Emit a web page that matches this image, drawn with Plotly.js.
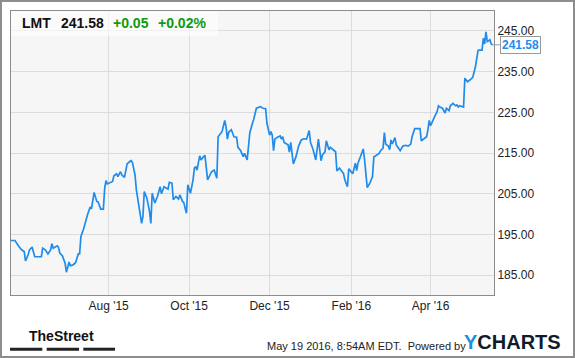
<!DOCTYPE html>
<html><head><meta charset="utf-8">
<script src="https://cdn.plot.ly/plotly-3.0.1.min.js"></script>
<style>
html,body{margin:0;padding:0;background:#fff;}
#wrap{position:relative;width:575px;height:358px;}
#chart{width:575px;height:358px;}
#frame{position:absolute;left:0;top:0;width:575px;height:358px;box-sizing:border-box;border:2px solid #8d8d8d;pointer-events:none;}
</style></head>
<body>
<div id="wrap"><div id="chart"></div><div id="frame"></div></div>
<script>
const dates = [
"2015-05-19","2015-05-22","2015-05-25","2015-05-27","2015-05-29","2015-05-30","2015-06-01","2015-06-02","2015-06-04","2015-06-05",
"2015-06-06","2015-06-11","2015-06-12","2015-06-14","2015-06-16","2015-06-18","2015-06-19","2015-06-20","2015-06-21","2015-06-23",
"2015-06-24","2015-06-25","2015-06-27","2015-06-29","2015-06-30","2015-07-02","2015-07-03","2015-07-05","2015-07-07","2015-07-09",
"2015-07-10","2015-07-11","2015-07-13","2015-07-15","2015-07-16","2015-07-18","2015-07-19","2015-07-21","2015-07-23","2015-07-24",
"2015-07-26","2015-07-28","2015-07-29","2015-07-30","2015-07-31","2015-08-04","2015-08-05","2015-08-07","2015-08-08","2015-08-10",
"2015-08-11","2015-08-13","2015-08-15","2015-08-17","2015-08-18","2015-08-19","2015-08-21","2015-08-22","2015-08-24","2015-08-26",
"2015-08-27","2015-08-28","2015-08-30","2015-08-31","2015-09-01","2015-09-02","2015-09-03","2015-09-05","2015-09-07","2015-09-09",
"2015-09-10","2015-09-12","2015-09-14","2015-09-15","2015-09-16","2015-09-18","2015-09-19","2015-09-21","2015-09-23","2015-09-24",
"2015-09-26","2015-09-27","2015-09-28","2015-09-29","2015-09-30","2015-10-02","2015-10-04","2015-10-05","2015-10-06","2015-10-07",
"2015-10-09","2015-10-10","2015-10-12","2015-10-13","2015-10-15","2015-10-17","2015-10-18","2015-10-20","2015-10-22","2015-10-23",
"2015-10-25","2015-10-26","2015-10-28","2015-10-29","2015-10-30","2015-10-31","2015-11-02","2015-11-04","2015-11-06","2015-11-07",
"2015-11-09","2015-11-10","2015-11-11","2015-11-12","2015-11-14","2015-11-15","2015-11-16","2015-11-18","2015-11-19","2015-11-21",
"2015-11-23","2015-11-24","2015-11-26","2015-11-28","2015-11-29","2015-12-01","2015-12-02","2015-12-03","2015-12-04","2015-12-05",
"2015-12-07","2015-12-09","2015-12-10","2015-12-11","2015-12-12","2015-12-13","2015-12-15","2015-12-16","2015-12-17","2015-12-19",
"2015-12-21","2015-12-23","2015-12-25","2015-12-27","2015-12-29","2015-12-31","2016-01-01","2016-01-03","2016-01-04","2016-01-05",
"2016-01-07","2016-01-08","2016-01-09","2016-01-10","2016-01-12","2016-01-13","2016-01-15","2016-01-16","2016-01-18","2016-01-20",
"2016-01-21","2016-01-23","2016-01-24","2016-01-26","2016-01-27","2016-01-29","2016-01-30","2016-02-01","2016-02-02","2016-02-04",
"2016-02-05","2016-02-06","2016-02-08","2016-02-10","2016-02-11","2016-02-13","2016-02-15","2016-02-17","2016-02-18","2016-02-20",
"2016-02-22","2016-02-23","2016-02-25","2016-02-26","2016-02-27","2016-02-29","2016-03-01","2016-03-02","2016-03-03","2016-03-05",
"2016-03-06","2016-03-09","2016-03-11","2016-03-13","2016-03-15","2016-03-17","2016-03-18","2016-03-20","2016-03-22","2016-03-24",
"2016-03-25","2016-03-27","2016-03-29","2016-03-30","2016-03-31","2016-04-01","2016-04-03","2016-04-04","2016-04-06","2016-04-07",
"2016-04-08","2016-04-10","2016-04-12","2016-04-13","2016-04-15","2016-04-16","2016-04-18","2016-04-20","2016-04-21","2016-04-22",
"2016-04-23","2016-04-25","2016-04-26","2016-04-27","2016-04-29","2016-05-01","2016-05-03","2016-05-05","2016-05-07","2016-05-08",
"2016-05-10","2016-05-11","2016-05-12","2016-05-13","2016-05-14","2016-05-16","2016-05-17","2016-05-18"
];
const prices = [
193.5,193.5,192.0,191.2,190.8,188.5,190.0,191.2,191.9,190.8,
189.5,189.5,191.6,191.2,190.2,191.2,192.7,191.6,191.8,192.2,
191.8,190.4,189.7,187.9,185.7,188.2,187.3,187.5,188.1,190.2,
190.2,194.5,196.3,199.0,199.8,201.7,201.3,205.3,203.1,203.0,
201.2,201.2,206.3,208.2,207.4,208.0,209.4,209.9,209.2,210.4,
209.6,209.0,212.3,212.9,213.1,212.7,209.6,206.0,201.8,197.7,
199.4,205.5,203.9,202.2,200.6,197.7,205.1,202.7,204.3,206.7,
205.0,206.7,206.2,206.1,207.8,207.6,203.5,204.3,203.7,204.7,
203.1,202.8,201.4,200.2,207.2,205.1,208.4,211.3,211.7,210.8,
214.3,213.3,214.1,214.4,208.4,209.6,210.4,210.8,208.8,219.0,
219.9,220.3,223.0,221.5,218.4,220.1,220.7,219.0,218.9,216.4,
215.6,214.8,214.1,214.9,213.3,216.6,220.0,222.3,223.3,226.0,
226.2,226.4,226.0,225.9,222.3,219.4,220.3,219.4,215.6,218.4,
218.9,219.2,218.4,219.0,217.6,217.4,217.0,215.2,217.6,212.3,
214.1,216.7,218.2,218.5,218.4,220.5,217.6,215.8,214.5,213.3,
218.4,215.3,213.1,214.5,215.3,218.0,215.8,216.4,215.8,215.3,
210.6,211.3,210.8,210.0,208.4,206.7,211.1,210.4,209.9,212.5,
210.7,212.5,214.1,216.0,213.3,206.5,207.6,209.2,214.0,214.5,
214.9,215.5,216.2,220.0,217.2,216.7,215.8,218.2,217.2,218.8,
217.0,215.6,216.7,216.9,216.7,217.2,219.0,221.0,221.0,221.0,
218.0,218.6,219.0,220.7,223.0,221.7,223.3,223.9,225.2,226.6,
226.3,226.0,224.8,226.0,225.4,226.6,227.2,226.6,226.8,226.3,
226.6,226.3,226.3,233.4,232.5,233.0,233.6,236.2,240.2,240.3,
240.3,243.2,241.8,244.8,242.4,242.8,241.8,241.58
];
const yTickValues = [185, 195, 205, 215, 225, 235, 245];
const xTickDates = ["2015-08-01", "2015-10-01", "2015-12-01", "2016-02-01", "2016-04-01"];
const xTickLabels = ["Aug '15", "Oct '15", "Dec '15", "Feb '16", "Apr '16"];
const ticker = "LMT";
const lastPrice = "241.58";
const change = "+0.05";
const changePct = "+0.02%";
const timestamp = "May 19 2016, 8:54AM EDT.\u00a0 Powered by";

const FONT = "Liberation Sans, Arial, sans-serif";
const LINE = "#1f8ceb";
const GREEN = "#0f9a0f";
const W = 575, H = 358, L = 11, R = 81, T = 11, B = 63;
const pw = W - L - R, ph = H - T - B;
const px = v => (v - L) / pw;
const py = v => (H - B - v) / ph;

const trace = {
  x: dates, y: prices, type: "scatter", mode: "lines",
  line: {color: LINE, width: 1.7}, hoverinfo: "skip"
};

const ann = [];
function txt(text, x, y, size, color, anchor, bold, family) {
  ann.push({xref: "paper", yref: "paper", x: px(x), y: py(y), xanchor: anchor, yanchor: "middle",
    text: bold ? "<b>" + text + "</b>" : text, showarrow: false,
    font: {family: family || FONT, size: size, color: color}, borderpad: 0});
}
txt(ticker, 21, 23, 14, "#111", "left", true);
txt(lastPrice, 60, 23, 14, "#111", "left", true);
txt(change, 112, 23, 14, GREEN, "left", true);
txt(changePct, 157, 23, 14, GREEN, "left", true);
txt(timestamp, 266, 345.5, 11, "#222", "left", false);
txt("<span style='color:#1a8fe3'>Y</span>CHARTS", 463, 342, 20, "#0f1c2c", "left", true);
txt("TheStreet", 61, 336, 14, "#111", "center", true, "Liberation Sans Narrow, Arial Narrow, sans-serif");

ann.push({
  xref: "x", yref: "y", x: dates[dates.length - 1], y: prices[prices.length - 1],
  text: "<b>" + lastPrice + "</b>", showarrow: true, arrowhead: 0, arrowwidth: 1, arrowcolor: "#999",
  ax: 28, ay: 0, standoff: 0, bgcolor: "#fff", bordercolor: "#999", borderwidth: 1, borderpad: 1,
  font: {family: FONT, size: 12, color: LINE}
});

const shapes = [
  {type: "rect", xref: "paper", yref: "paper", x0: 0, x1: px(218), y0: py(36), y1: 1,
   fillcolor: "rgba(255,255,255,0.6)", line: {width: 0}, layer: "above"}
];
[[10, 42.3], [46.7, 79], [83.3, 115]].forEach(b => shapes.push({
  type: "rect", xref: "paper", yref: "paper", x0: px(b[0]), x1: px(b[1]), y0: py(350.7), y1: py(347.7),
  fillcolor: "#222", line: {width: 0}
}));

const layout = {
  width: W, height: H, margin: {l: L, r: R, t: T, b: B},
  paper_bgcolor: "#fff", plot_bgcolor: "#f6f6f6",
  showlegend: false,
  font: {family: FONT, size: 12, color: "#222"},
  xaxis: {
    type: "date", range: ["2015-05-19", "2016-05-19 02:00"],
    tickmode: "array", tickvals: xTickDates, ticktext: xTickLabels,
    showgrid: true, gridcolor: "#dcdcdc", gridwidth: 1,
    showline: true, linecolor: "#8c8c8c", linewidth: 1, mirror: true,
    ticks: "", zeroline: false, fixedrange: true,
    tickfont: {family: FONT, size: 12, color: "#222"}
  },
  yaxis: {
    side: "right", range: [180.1, 249.9],
    tickmode: "array", tickvals: yTickValues, tickformat: ".2f",
    showgrid: true, gridcolor: "#dcdcdc", gridwidth: 1,
    showline: true, linecolor: "#8c8c8c", linewidth: 1, mirror: true,
    ticks: "", zeroline: false, fixedrange: true,
    tickfont: {family: FONT, size: 12, color: "#222"}
  },
  annotations: ann,
  shapes: shapes
};

Plotly.newPlot("chart", [trace], layout, {displayModeBar: false, staticPlot: true});
</script>
</body></html>
